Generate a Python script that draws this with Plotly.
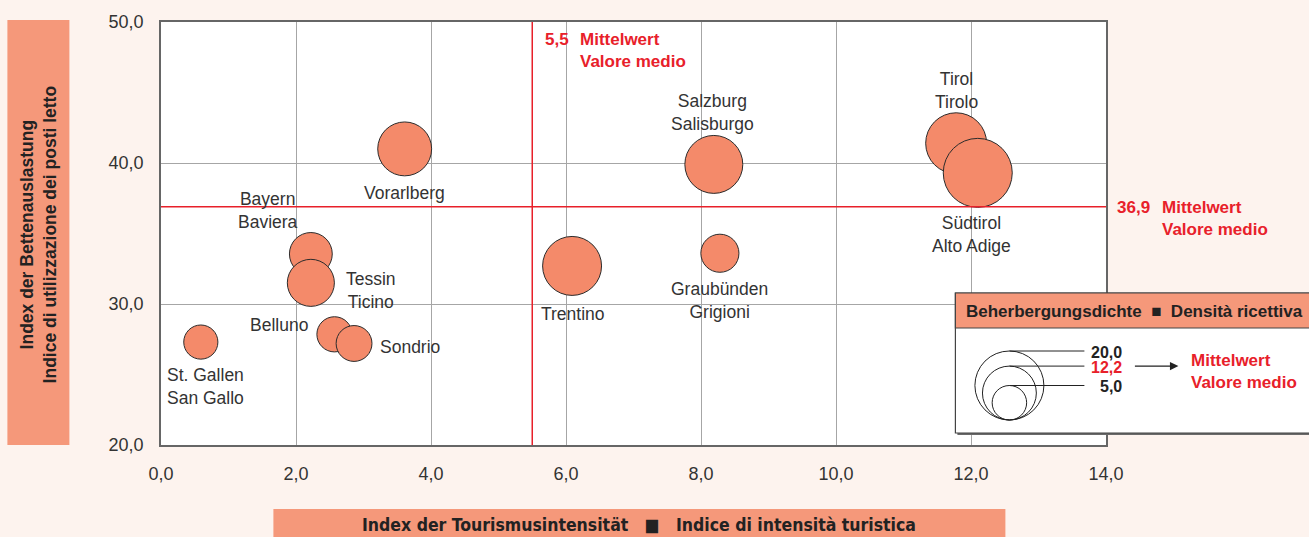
import plotly.graph_objects as go

# --- data -------------------------------------------------------------
regions = [
    "St. Gallen<br>San Gallo", "Bayern<br>Baviera", "Tessin<br>Ticino", "Belluno",
    "Sondrio", "Vorarlberg", "Trentino", "Salzburg<br>Salisburgo",
    "Graubünden<br>Grigioni", "Tirol<br>Tirolo", "Südtirol<br>Alto Adige",
]
tourism_index = [0.59, 2.22, 2.22, 2.57, 2.86, 3.61, 6.09, 8.19, 8.28, 11.78, 12.10]
bed_index = [27.3, 33.55, 31.5, 27.85, 27.2, 41.0, 32.7, 39.9, 33.6, 41.4, 39.3]
density = [4.9, 7.7, 9.3, 5.2, 5.4, 12.2, 14.6, 14.1, 6.1, 15.6, 20.0]

mean_x = 5.5
mean_y = 36.9
mean_density = 12.2
legend_sizes = [20.0, 12.2, 5.0]

x_ticks = [0, 2, 4, 6, 8, 10, 12, 14]
y_ticks = [20, 30, 40, 50]

# label placement relative to each bubble: (xanchor, xshift, yshift)
label_pos = [
    ("center", 5, -44), ("center", -43, 43), ("left", 33, -8), ("right", -24, 9),
    ("left", 24, -4), ("center", 0, -44), ("center", 1, -48), ("center", -1, 52),
    ("center", 0, -47), ("center", 0, 53), ("center", -6, -62),
]

# --- styling ------------------------------------------------------------
W, H = 1309, 537
L, R, T, B = 160.6, 203.4, 22, 92
PAGE_BG = "#fdf3ee"
SALMON = "#f5987a"
BUBBLE = "#f48a6a"
RED = "#e8202a"
TXT = "#333333"
DARK = "#222222"
FONT = "Liberation Sans, Arial, sans-serif"
MAX_D = 69  # px diameter for the largest legend value

pw, ph = W - L - R, H - T - B


def px_x(p):
    return (p - L) / pw


def px_y(p):
    return (H - B - p) / ph


def fmt(v):
    return f"{v:.1f}".replace(".", ",")


fig = go.Figure()
fig.add_trace(
    go.Scatter(
        x=tourism_index,
        y=bed_index,
        mode="markers",
        marker=dict(
            size=density,
            sizemode="area",
            sizeref=2 * max(legend_sizes) / MAX_D**2,
            color=BUBBLE,
            opacity=1,
            line=dict(color="#2b2b2b", width=1),
        ),
        hoverinfo="skip",
        showlegend=False,
    )
)

shapes = []
ann = []

# mean lines
shapes.append(dict(type="line", xref="x", yref="paper", x0=mean_x, x1=mean_x, y0=0, y1=1,
                   line=dict(color=RED, width=1.5)))
shapes.append(dict(type="line", xref="paper", yref="y", x0=0, x1=1, y0=mean_y, y1=mean_y,
                   line=dict(color=RED, width=1.5)))

# bubble labels
for name, x, y, (xa, xs, ys) in zip(regions, tourism_index, bed_index, label_pos):
    ann.append(dict(x=x, y=y, xref="x", yref="y", text=name, showarrow=False,
                    xanchor=xa, yanchor="middle", xshift=xs, yshift=ys, align="center",
                    font=dict(family=FONT, size=17.5, color=TXT)))

# mean annotations
red_font = dict(family=FONT, size=17, color=RED)
ann.append(dict(x=mean_x, y=1, xref="x", yref="paper", text=f"<b>{fmt(mean_x)}</b>",
                showarrow=False, xanchor="left", yanchor="top", xshift=11, yshift=-6,
                font=red_font))
ann.append(dict(x=mean_x, y=1, xref="x", yref="paper", text="<b>Mittelwert<br>Valore medio</b>",
                showarrow=False, xanchor="left", yanchor="top", xshift=46, yshift=-6, align="left",
                font=red_font))
ann.append(dict(x=1, y=mean_y, xref="paper", yref="y", text=f"<b>{fmt(mean_y)}</b>",
                showarrow=False, xanchor="left", yanchor="top", xshift=9, yshift=11,
                font=red_font))
ann.append(dict(x=1, y=mean_y, xref="paper", yref="y", text="<b>Mittelwert<br>Valore medio</b>",
                showarrow=False, xanchor="left", yanchor="top", xshift=54, yshift=11, align="left",
                font=red_font))

# y axis title band
shapes.append(dict(type="rect", xref="paper", yref="paper", x0=px_x(7), x1=px_x(69),
                   y0=px_y(445), y1=px_y(20), fillcolor=SALMON, line=dict(width=0), layer="below"))
ann.append(dict(x=px_x(38), y=px_y(234), xref="paper", yref="paper", textangle=-90,
                xanchor="center", yanchor="middle",
                text="<b>Index der Bettenauslastung<br>Indice di utilizzazione dei posti letto</b>",
                showarrow=False, font=dict(family=FONT, size=17.5, color=DARK)))

# x axis title band
shapes.append(dict(type="rect", xref="paper", yref="paper", x0=px_x(273), x1=px_x(1005),
                   y0=px_y(545), y1=px_y(509), fillcolor=SALMON, line=dict(width=0), layer="below"))
ann.append(dict(x=px_x(639), y=px_y(525), xref="paper", yref="paper",
                xanchor="center", yanchor="middle",
                text="<b>Index der Tourismusintensität   ■   Indice di intensità turistica</b>",
                showarrow=False,
                font=dict(family="DejaVu Sans Condensed, " + FONT, size=17.5, color=DARK)))

# bubble-size legend box
bx0, bx1, by0, by1 = 955, 1325, 293, 433
shapes.append(dict(type="rect", xref="paper", yref="paper", x0=px_x(bx0 + 2), x1=px_x(bx1 + 2),
                   y0=px_y(by1 + 2), y1=px_y(by0 + 2), fillcolor="#6a6a6a",
                   line=dict(width=0), layer="above"))
shapes.append(dict(type="rect", xref="paper", yref="paper", x0=px_x(bx0), x1=px_x(bx1),
                   y0=px_y(by1), y1=px_y(by0), fillcolor="white",
                   line=dict(color="#444444", width=1.2), layer="above"))
shapes.append(dict(type="rect", xref="paper", yref="paper", x0=px_x(bx0), x1=px_x(bx1),
                   y0=px_y(328), y1=px_y(by0), fillcolor=SALMON,
                   line=dict(color="#444444", width=1.2), layer="above"))
ann.append(dict(x=px_x(964), y=px_y(311), xref="paper", yref="paper",
                xanchor="left", yanchor="middle",
                text="<b>Beherbergungsdichte  ■  Densità ricettiva</b>", showarrow=False,
                font=dict(family=FONT, size=17, color=DARK)))

cx, cb = 1009, 420
for v in legend_sizes:
    d = MAX_D * (v / max(legend_sizes)) ** 0.5
    top = cb - d
    shapes.append(dict(type="circle", xref="paper", yref="paper",
                       x0=px_x(cx - d / 2), x1=px_x(cx + d / 2), y0=px_y(cb), y1=px_y(top),
                       line=dict(color=DARK, width=1), layer="above"))
    shapes.append(dict(type="line", xref="paper", yref="paper", x0=px_x(cx), x1=px_x(1084),
                       y0=px_y(top), y1=px_y(top), line=dict(color=DARK, width=1),
                       layer="above"))
    ann.append(dict(x=px_x(1124), y=px_y(top + 1), xref="paper", yref="paper",
                    xanchor="right", yanchor="middle",
                    text=f"<b>{fmt(v)}</b>", showarrow=False,
                    font=dict(family=FONT, size=16,
                              color=RED if v == mean_density else DARK)))

mean_top = cb - MAX_D * (mean_density / max(legend_sizes)) ** 0.5
ann.append(dict(x=px_x(1178), y=px_y(mean_top), xref="paper", yref="paper", ax=-45, ay=0,
                text="", showarrow=True, arrowhead=2, arrowsize=1.3, arrowwidth=1.3,
                arrowcolor=DARK))
ann.append(dict(x=px_x(1189), y=px_y(mean_top + 5), xref="paper", yref="paper",
                xanchor="left", yanchor="middle",
                text="<b>Mittelwert<br>Valore medio</b>", showarrow=False, align="left",
                font=red_font))

axis_common = dict(
    showgrid=True, gridcolor="#a6a6a6", gridwidth=1, zeroline=False,
    showline=True, linecolor="#666666", linewidth=1.5, mirror=True,
    ticks="", tickformat=".1f", ticklabelstandoff=12,
    tickfont=dict(family=FONT, size=18, color=TXT),
)

fig.update_layout(
    width=W, height=H,
    margin=dict(l=L, r=R, t=T, b=B),
    paper_bgcolor=PAGE_BG, plot_bgcolor="white",
    separators=",.",
    xaxis=dict(range=[0, 14], tickvals=x_ticks, **axis_common),
    yaxis=dict(range=[20, 50], tickvals=y_ticks, **axis_common),
    shapes=shapes, annotations=ann,
    showlegend=False,
)

fig.write_html("out.html", config={"displayModeBar": False},
               post_script="document.body.style.margin='0';")
